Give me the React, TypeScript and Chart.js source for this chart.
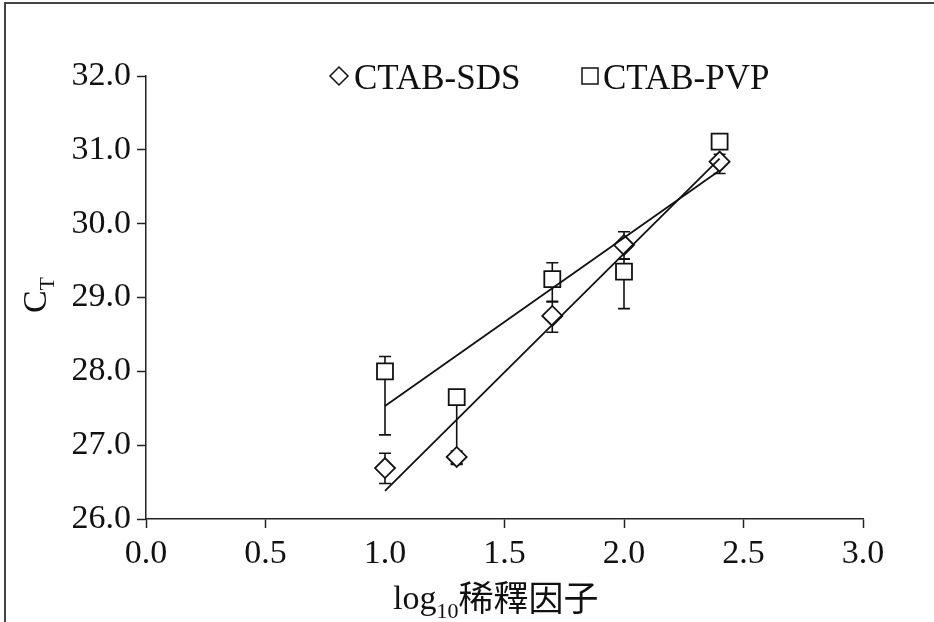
import React, { useEffect, useRef } from 'react';
import { Chart, registerables } from 'chart.js';

Chart.register(...registerables);

// ---- data ----
const dilutionLog = [1.0, 1.3, 1.7, 2.0, 2.4];
const sdsCt = [26.69, 26.84, 28.75, 29.71, 30.84];
const sdsErrUp = [0.2, 0.08, 0.2, 0.18, 0.1];
const sdsErrDown = [0.21, 0.1, 0.22, 0.19, 0.16];
const pvpCt = [28.0, 27.65, 29.25, 29.35, 31.11];
const pvpErrUp = [0.2, 0.08, 0.22, 0.17, 0.05];
const pvpErrDown = [0.86, 0.9, 0.31, 0.5, 0.05];
const fitX = [1.0, 2.4];
const sdsFit = [26.38, 30.88];
const pvpFit = [27.53, 30.72];
const seriesNames = ['CTAB-SDS', 'CTAB-PVP'];
const yTitleMain = 'C';
const yTitleSub = 'T';
const xTitleMain = 'log';
const xTitleSub = '10';
const xTitleRest = '稀釋因子';

const INK = '#111';
const SERIF = '"Liberation Serif", "Times New Roman", serif';
const CJK = '"Noto Sans CJK TC", "Noto Sans CJK SC", sans-serif';

const errorBarPlugin = {
  id: 'errorBars',
  beforeDatasetsDraw(chart: any) {
    const { ctx, scales } = chart;
    const xs = scales.x;
    const ys = scales.y;
    const groups = [
      { v: sdsCt, up: sdsErrUp, dn: sdsErrDown },
      { v: pvpCt, up: pvpErrUp, dn: pvpErrDown },
    ];
    ctx.save();
    ctx.strokeStyle = INK;
    ctx.lineWidth = 1.6;
    groups.forEach((g) => {
      dilutionLog.forEach((xv, i) => {
        const px = xs.getPixelForValue(xv);
        const top = ys.getPixelForValue(g.v[i] + g.up[i]);
        const bot = ys.getPixelForValue(g.v[i] - g.dn[i]);
        ctx.beginPath();
        ctx.moveTo(px, top);
        ctx.lineTo(px, bot);
        ctx.moveTo(px - 6, top);
        ctx.lineTo(px + 6, top);
        ctx.moveTo(px - 6, bot);
        ctx.lineTo(px + 6, bot);
        ctx.stroke();
      });
    });
    ctx.restore();
  },
};

const decorPlugin = {
  id: 'decor',
  afterDraw(chart: any) {
    const { ctx } = chart;
    ctx.save();
    // outer frame (top and left edges)
    ctx.strokeStyle = '#444';
    ctx.lineWidth = 2;
    ctx.beginPath();
    ctx.moveTo(5, 622);
    ctx.lineTo(5, 3);
    ctx.lineTo(934, 3);
    ctx.stroke();

    // legend
    ctx.fillStyle = INK;
    ctx.strokeStyle = INK;
    ctx.lineWidth = 1.5;
    ctx.textBaseline = 'alphabetic';
    ctx.textAlign = 'left';
    ctx.font = `35px ${SERIF}`;
    const ly = 76;
    ctx.beginPath();
    ctx.moveTo(339, ly - 9);
    ctx.lineTo(348, ly);
    ctx.lineTo(339, ly + 9);
    ctx.lineTo(330, ly);
    ctx.closePath();
    ctx.stroke();
    ctx.fillText(seriesNames[0], 354, 89);
    ctx.strokeRect(582, ly - 8, 16, 16);
    ctx.fillText(seriesNames[1], 603, 89);

    // x title
    const xBase = 609;
    let x = 393;
    ctx.font = `34px ${SERIF}`;
    ctx.fillText(xTitleMain, x, xBase);
    x += ctx.measureText(xTitleMain).width;
    ctx.font = `22px ${SERIF}`;
    ctx.fillText(xTitleSub, x, xBase + 9);
    x += ctx.measureText(xTitleSub).width;
    ctx.font = `35px ${CJK}`;
    ctx.fillText(xTitleRest, x, xBase + 2);

    // y title (rotated)
    ctx.translate(46, 295);
    ctx.rotate(-Math.PI / 2);
    ctx.font = `34px ${SERIF}`;
    const wMain = ctx.measureText(yTitleMain).width;
    ctx.font = `22px ${SERIF}`;
    const wSub = ctx.measureText(yTitleSub).width;
    const start = -(wMain + wSub) / 2;
    ctx.font = `34px ${SERIF}`;
    ctx.fillText(yTitleMain, start, 0);
    ctx.font = `22px ${SERIF}`;
    ctx.fillText(yTitleSub, start + wMain, 8);
    ctx.restore();
  },
};

export default function App() {
  const ref = useRef<HTMLCanvasElement | null>(null);

  useEffect(() => {
    const canvas = ref.current;
    if (!canvas) return;
    const chart = new Chart(canvas, {
      type: 'scatter',
      data: {
        datasets: [
          {
            label: seriesNames[0] + ' fit',
            data: fitX.map((x, i) => ({ x, y: sdsFit[i] })),
            showLine: true,
            borderColor: INK,
            borderWidth: 1.8,
            pointRadius: 0,
            order: 0,
          },
          {
            label: seriesNames[1] + ' fit',
            data: fitX.map((x, i) => ({ x, y: pvpFit[i] })),
            showLine: true,
            borderColor: INK,
            borderWidth: 1.8,
            pointRadius: 0,
            order: 0,
          },
          {
            label: seriesNames[0],
            data: dilutionLog.map((x, i) => ({ x, y: sdsCt[i] })),
            pointStyle: 'rectRot',
            pointRadius: 10,
            pointBackgroundColor: '#fff',
            pointBorderColor: INK,
            pointBorderWidth: 1.8,
            showLine: false,
            order: 1,
          },
          {
            label: seriesNames[1],
            data: dilutionLog.map((x, i) => ({ x, y: pvpCt[i] })),
            pointStyle: 'rect',
            pointRadius: 11.3,
            pointBackgroundColor: '#fff',
            pointBorderColor: INK,
            pointBorderWidth: 1.8,
            showLine: false,
            order: 1,
          },
        ],
      },
      options: {
        responsive: false,
        animation: false,
        devicePixelRatio: 1,
        layout: { padding: { left: 0, top: 76, right: 71, bottom: 0 } },
        plugins: {
          legend: { display: false },
          tooltip: { enabled: false },
        },
        scales: {
          x: {
            type: 'linear',
            min: 0,
            max: 3,
            afterFit: (s: any) => {
              s.height = 103;
            },
            ticks: {
              stepSize: 0.5,
              callback: (v: any) => Number(v).toFixed(1),
              font: { family: SERIF, size: 34 },
              color: INK,
              padding: 6,
              maxRotation: 0,
            },
            grid: {
              drawOnChartArea: false,
              drawTicks: true,
              tickLength: 9,
              tickWidth: 1.5,
              tickColor: (c: any) =>
                c.tick && c.tick.value === 1 ? 'rgba(0,0,0,0)' : '#222',
            },
            border: { display: true, color: '#222', width: 1.5 },
          },
          y: {
            min: 26,
            max: 32,
            afterFit: (s: any) => {
              s.width = 146;
            },
            ticks: {
              stepSize: 1,
              callback: (v: any) => Number(v).toFixed(1),
              font: { family: SERIF, size: 34 },
              color: INK,
              padding: 6,
            },
            grid: {
              drawOnChartArea: false,
              drawTicks: true,
              tickLength: 9,
              tickWidth: 1.5,
              tickColor: '#222',
            },
            border: { display: true, color: '#222', width: 1.5 },
          },
        },
      },
      plugins: [errorBarPlugin, decorPlugin],
    });
    return () => chart.destroy();
  }, []);

  return (
    <div style={{ position: 'absolute', left: 0, top: 0, width: 934, height: 622, background: '#fff' }}>
      <canvas ref={ref} width={934} height={622} style={{ display: 'block' }} />
    </div>
  );
}
